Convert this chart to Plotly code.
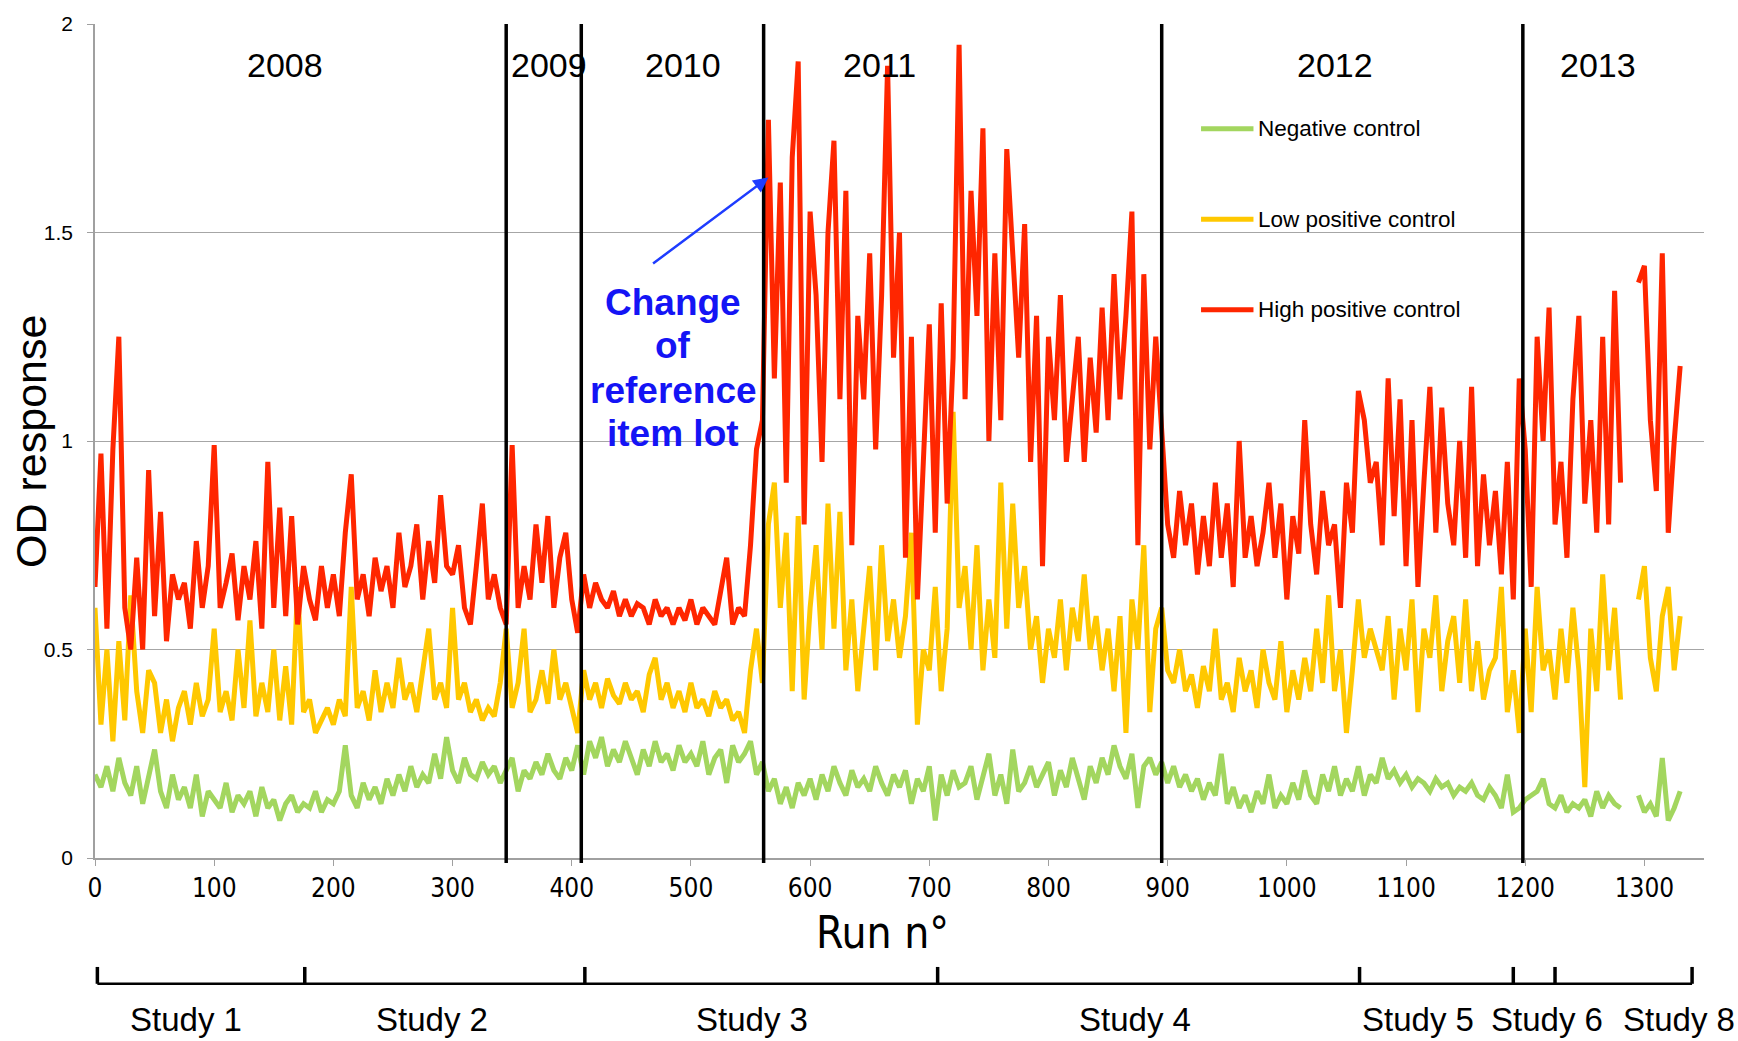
import plotly.graph_objects as go

# Run numbers (one sampled point every 5 runs)
runs = list(range(0, 1331, 5))

high_positive = [
    0.65, 0.97, 0.55, 0.98, 1.25, 0.60, 0.50, 0.72, 0.50, 0.93,
    0.58, 0.83, 0.52, 0.68, 0.62, 0.66, 0.55, 0.76, 0.60, 0.70,
    0.99, 0.60, 0.66, 0.73, 0.57, 0.70, 0.62, 0.76, 0.55, 0.95,
    0.60, 0.84, 0.58, 0.82, 0.56, 0.70, 0.62, 0.57, 0.70, 0.60,
    0.68, 0.58, 0.78, 0.92, 0.62, 0.68, 0.58, 0.72, 0.64, 0.70,
    0.60, 0.78, 0.65, 0.70, 0.80, 0.62, 0.76, 0.66, 0.87, 0.70,
    0.68, 0.75, 0.60, 0.56, 0.70, 0.85, 0.62, 0.68, 0.60, 0.56,
    0.99, 0.60, 0.70, 0.62, 0.80, 0.66, 0.82, 0.60, 0.72, 0.78,
    0.62, 0.54, 0.68, 0.60, 0.66, 0.62, 0.60, 0.64, 0.58, 0.62,
    0.58, 0.61, 0.60, 0.56, 0.62, 0.58, 0.60, 0.56, 0.60, 0.57,
    0.62, 0.56, 0.60, 0.58, 0.56, 0.64, 0.72, 0.56, 0.60, 0.58,
    0.75, 0.98, 1.05, 1.77, 1.15, 1.62, 0.90, 1.68, 1.91, 0.80,
    1.55, 1.35, 0.95, 1.50, 1.72, 1.10, 1.60, 0.75, 1.30, 1.10,
    1.45, 0.98, 1.35, 1.90, 1.20, 1.50, 0.72, 1.25, 0.62, 0.95,
    1.28, 0.78, 1.33, 0.85, 1.20, 1.95, 1.10, 1.60, 1.30, 1.75,
    1.00, 1.45, 1.05, 1.70, 1.45, 1.20, 1.52, 0.95, 1.30, 0.70,
    1.25, 1.05, 1.35, 0.95, 1.10, 1.25, 0.95, 1.20, 1.02, 1.32,
    1.05, 1.40, 1.10, 1.30, 1.55, 0.75, 1.40, 0.98, 1.25, 1.00,
    0.80, 0.72, 0.88, 0.75, 0.85, 0.68, 0.82, 0.70, 0.90, 0.72,
    0.85, 0.65, 1.00, 0.72, 0.82, 0.70, 0.78, 0.90, 0.72, 0.85,
    0.62, 0.82, 0.73, 1.05, 0.80, 0.68, 0.88, 0.75, 0.80, 0.60,
    0.90, 0.78, 1.12, 1.05, 0.90, 0.95, 0.75, 1.15, 0.82, 1.10,
    0.70, 1.05, 0.65, 0.90, 1.13, 0.78, 1.08, 0.85, 0.75, 1.00,
    0.72, 1.13, 0.70, 0.92, 0.75, 0.88, 0.68, 0.95, 0.62, 1.15,
    0.98, 0.65, 1.25, 1.00, 1.32, 0.80, 0.95, 0.72, 1.10, 1.30,
    0.85, 1.05, 0.78, 1.25, 0.80, 1.36, 0.90, None, None, 1.38,
    1.42, 1.05, 0.88, 1.45, 0.78, 1.00, 1.18,
]

low_positive = [
    0.60, 0.32, 0.50, 0.28, 0.52, 0.33, 0.63, 0.40, 0.30, 0.45,
    0.42, 0.30, 0.38, 0.28, 0.36, 0.40, 0.32, 0.42, 0.34, 0.38,
    0.55, 0.35, 0.40, 0.33, 0.50, 0.36, 0.57, 0.34, 0.42, 0.35,
    0.50, 0.33, 0.46, 0.32, 0.65, 0.35, 0.38, 0.30, 0.33, 0.36,
    0.32, 0.38, 0.34, 0.65, 0.36, 0.40, 0.33, 0.45, 0.35, 0.42,
    0.36, 0.48, 0.38, 0.42, 0.35, 0.45, 0.55, 0.38, 0.42, 0.36,
    0.60, 0.38, 0.42, 0.35, 0.38, 0.33, 0.36, 0.34, 0.42, 0.55,
    0.36, 0.42, 0.55, 0.35, 0.38, 0.45, 0.37, 0.50, 0.38, 0.42,
    0.36, 0.30, 0.45, 0.38, 0.42, 0.36, 0.43, 0.39, 0.37, 0.42,
    0.38, 0.40, 0.35, 0.44, 0.48, 0.38, 0.42, 0.36, 0.40, 0.35,
    0.42, 0.36, 0.38, 0.34, 0.40, 0.36, 0.38, 0.33, 0.35, 0.30,
    0.45, 0.55, 0.42, 0.80, 0.90, 0.60, 0.78, 0.40, 0.82, 0.38,
    0.60, 0.75, 0.50, 0.85, 0.55, 0.83, 0.45, 0.62, 0.40, 0.55,
    0.70, 0.45, 0.75, 0.52, 0.62, 0.48, 0.58, 0.78, 0.32, 0.50,
    0.45, 0.65, 0.40, 0.55, 1.07, 0.60, 0.70, 0.50, 0.75, 0.45,
    0.62, 0.48, 0.90, 0.55, 0.85, 0.60, 0.70, 0.50, 0.58, 0.42,
    0.55, 0.48, 0.62, 0.45, 0.60, 0.52, 0.68, 0.50, 0.58, 0.45,
    0.55, 0.40, 0.58, 0.30, 0.62, 0.50, 0.75, 0.35, 0.55, 0.60,
    0.45, 0.42, 0.50, 0.40, 0.44, 0.36, 0.46, 0.40, 0.55, 0.38,
    0.42, 0.35, 0.48, 0.40, 0.45, 0.36, 0.50, 0.42, 0.38, 0.52,
    0.35, 0.45, 0.38, 0.48, 0.40, 0.55, 0.42, 0.63, 0.40, 0.50,
    0.30, 0.45, 0.62, 0.48, 0.55, 0.50, 0.45, 0.58, 0.38, 0.55,
    0.45, 0.62, 0.35, 0.55, 0.48, 0.63, 0.40, 0.52, 0.58, 0.42,
    0.62, 0.40, 0.52, 0.38, 0.45, 0.48, 0.65, 0.35, 0.45, 0.30,
    0.55, 0.35, 0.65, 0.45, 0.50, 0.38, 0.55, 0.42, 0.60, 0.45,
    0.17, 0.55, 0.40, 0.68, 0.45, 0.60, 0.38, None, None, 0.62,
    0.70, 0.48, 0.40, 0.58, 0.65, 0.45, 0.58,
]

negative = [
    0.20, 0.17, 0.22, 0.16, 0.24, 0.18, 0.15, 0.22, 0.13, 0.20,
    0.26, 0.16, 0.12, 0.20, 0.14, 0.17, 0.12, 0.20, 0.10, 0.16,
    0.14, 0.12, 0.18, 0.11, 0.15, 0.13, 0.16, 0.10, 0.17, 0.12,
    0.14, 0.09, 0.13, 0.15, 0.11, 0.13, 0.12, 0.16, 0.11, 0.14,
    0.13, 0.16, 0.27, 0.15, 0.12, 0.18, 0.14, 0.17, 0.13, 0.19,
    0.15, 0.20, 0.16, 0.22, 0.17, 0.20, 0.18, 0.25, 0.19, 0.29,
    0.21, 0.18, 0.24, 0.20, 0.19, 0.23, 0.20, 0.22, 0.18, 0.21,
    0.24, 0.16, 0.21, 0.19, 0.23, 0.20, 0.25, 0.21, 0.19, 0.24,
    0.21, 0.27, 0.20, 0.28, 0.24, 0.29, 0.22, 0.26, 0.23, 0.28,
    0.24, 0.20, 0.26, 0.22, 0.28, 0.23, 0.25, 0.21, 0.27, 0.23,
    0.25, 0.22, 0.28, 0.20, 0.24, 0.26, 0.18, 0.27, 0.23, 0.25,
    0.28, 0.20, 0.23, 0.16, 0.19, 0.13, 0.17, 0.12, 0.18, 0.15,
    0.19, 0.14, 0.20, 0.16, 0.22, 0.18, 0.15, 0.21, 0.17, 0.19,
    0.16, 0.22, 0.18, 0.15, 0.20, 0.17, 0.21, 0.13, 0.19, 0.16,
    0.22, 0.09, 0.20, 0.15, 0.21, 0.17, 0.18, 0.22, 0.14, 0.19,
    0.25, 0.15, 0.20, 0.13, 0.26, 0.16, 0.18, 0.22, 0.17, 0.20,
    0.23, 0.15, 0.21, 0.17, 0.24, 0.19, 0.14, 0.22, 0.18, 0.24,
    0.20, 0.27, 0.22, 0.19, 0.25, 0.12, 0.22, 0.24, 0.20, 0.23,
    0.18, 0.22, 0.17, 0.20, 0.16, 0.19, 0.14, 0.18, 0.15, 0.25,
    0.13, 0.17, 0.12, 0.15, 0.11, 0.16, 0.13, 0.20, 0.12, 0.15,
    0.13, 0.18, 0.14, 0.21, 0.15, 0.13, 0.20, 0.16, 0.22, 0.15,
    0.19, 0.16, 0.22, 0.15, 0.20, 0.18, 0.24, 0.19, 0.21, 0.18,
    0.20, 0.17, 0.19, 0.18, 0.16, 0.19, 0.17, 0.18, 0.15, 0.17,
    0.16, 0.18, 0.15, 0.14, 0.17, 0.15, 0.12, 0.20, 0.11, 0.12,
    0.14, 0.15, 0.16, 0.19, 0.13, 0.12, 0.15, 0.11, 0.13, 0.12,
    0.14, 0.10, 0.16, 0.12, 0.15, 0.13, 0.12, None, None, 0.15,
    0.11, 0.13, 0.10, 0.24, 0.09, 0.12, 0.16,
]

series_names = ["Negative control", "Low positive control", "High positive control"]
series_colors = ["#a3d65f", "#ffc800", "#ff2600"]

year_boundaries = [345, 408, 561, 895, 1198]
year_labels = ["2008", "2009", "2010", "2011", "2012", "2013"]
year_label_pos = [159, 381, 493, 658, 1040, 1261]

study_ticks = [2, 176, 411, 707, 1061, 1190, 1225, 1340]
study_labels = ["Study 1", "Study 2", "Study 3", "Study 4", "Study 5", "Study 6", "Study 8"]
study_label_pos = [76, 283, 551, 873, 1110, 1218, 1329]

annotation_lines = ["Change", "of", "reference", "item lot"]

NARROW = "Liberation Sans Narrow, Arial Narrow, DejaVu Sans Condensed, sans-serif"
REG = "Liberation Sans, Arial, Helvetica, sans-serif"

fig = go.Figure()
for name, vals, col in zip(series_names, [negative, low_positive, high_positive], series_colors):
    fig.add_trace(go.Scatter(x=runs, y=vals, mode="lines", name=name,
                             line=dict(color=col, width=5), connectgaps=False,
                             showlegend=False))

# plot area spans 842 px vertically; paper offsets below the axis are relative to it
PH = 842.0
def below(px):
    return -px / PH

shapes = []
for b in year_boundaries:
    shapes.append(dict(type="line", xref="x", yref="paper", x0=b, x1=b, y0=below(5), y1=1,
                       line=dict(color="black", width=3.5)))

y_line = below(127)
y_tick = below(110)
shapes.append(dict(type="line", xref="x", yref="paper", x0=study_ticks[0], x1=study_ticks[-1],
                   y0=y_line, y1=y_line, line=dict(color="black", width=2.5)))
for t in study_ticks:
    shapes.append(dict(type="line", xref="x", yref="paper", x0=t, x1=t,
                       y0=y_line, y1=y_tick, line=dict(color="black", width=3.5)))

legend_y = [1.749, 1.532, 1.315]
for yv, col in zip(legend_y, series_colors):
    shapes.append(dict(type="line", xref="x", yref="y", x0=928, x1=972, y0=yv, y1=yv,
                       line=dict(color=col, width=5)))

annotations = []
for lbl, xp in zip(year_labels, year_label_pos):
    annotations.append(dict(x=xp, y=1.902, xref="x", yref="y", text=lbl, showarrow=False,
                            xanchor="center", yanchor="middle",
                            font=dict(family=REG, size=34, color="black")))
for lbl, xp in zip(study_labels, study_label_pos):
    annotations.append(dict(x=xp, y=below(163), xref="x", yref="paper", text=lbl, showarrow=False,
                            xanchor="center", yanchor="middle",
                            font=dict(family=REG, size=33, color="black")))
for name, yv in zip(series_names, legend_y):
    annotations.append(dict(x=974, y=yv, xref="x", yref="y", text=name, showarrow=False,
                            xanchor="left", yanchor="middle",
                            font=dict(family=REG, size=22.5, color="black")))

ann_y = [1.333, 1.230, 1.122, 1.019]
for txt, yv in zip(annotation_lines, ann_y):
    annotations.append(dict(x=485, y=yv, xref="x", yref="y", text="<b>" + txt + "</b>",
                            showarrow=False, xanchor="center", yanchor="middle",
                            font=dict(family=REG, size=37, color="#1414f5")))
annotations.append(dict(x=565, y=1.632, ax=467, ay=1.423, xref="x", yref="y", axref="x", ayref="y",
                        text="", showarrow=True, arrowhead=2, arrowsize=1.2, arrowwidth=2.5,
                        arrowcolor="#1e3cff"))

annotations.append(dict(x=661, y=below(75), xref="x", yref="paper", text="Run n°", showarrow=False,
                        xanchor="center", yanchor="middle",
                        font=dict(family=NARROW, size=44, color="black")))
annotations.append(dict(x=-0.0398, y=0.5, xref="paper", yref="paper", text="OD response",
                        textangle=-90, showarrow=False, xanchor="center", yanchor="middle",
                        font=dict(family=REG, size=43, color="black")))

fig.update_layout(
    width=1738, height=1041,
    margin=dict(l=95, r=34, t=16, b=183),
    paper_bgcolor="white", plot_bgcolor="white",
    shapes=shapes, annotations=annotations,
    showlegend=False,
    xaxis=dict(range=[0, 1350], tickmode="array", tickvals=list(range(0, 1301, 100)),
               showgrid=False, zeroline=False, showline=True, linecolor="#a0a0a0", linewidth=1.5,
               ticks="outside", tickcolor="#a0a0a0", ticklen=6,
               tickfont=dict(family=NARROW, size=26, color="black")),
    yaxis=dict(range=[0, 2], tickmode="array", tickvals=[0, 0.5, 1, 1.5, 2],
               ticktext=["0", "0.5", "1", "1.5", "2"],
               showgrid=True, gridcolor="#a6a6a6", gridwidth=1, zeroline=False,
               showline=True, linecolor="#a0a0a0", linewidth=1.5,
               ticks="outside", tickcolor="#a0a0a0", ticklen=6, ticklabelstandoff=10,
               tickfont=dict(family=REG, size=21, color="black")),
)

# remove the default page margin so the figure fills the window exactly
fig.write_html("out.html", config={"displayModeBar": False},
               post_script="document.body.style.margin='0';document.body.style.overflow='hidden';")
